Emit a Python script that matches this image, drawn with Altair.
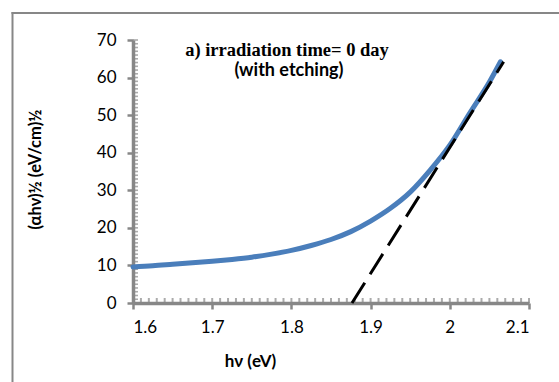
import altair as alt
import pandas as pd

# Measured curve (alpha h nu)^1/2 vs photon energy
hv = [1.600, 1.625, 1.650, 1.675, 1.700, 1.725, 1.750, 1.775, 1.800, 1.825,
      1.850, 1.875, 1.900, 1.925, 1.950, 1.975, 2.000, 2.025, 2.050, 2.064]
ahv = [9.6, 9.9, 10.3, 10.7, 11.1, 11.6, 12.2, 13.0, 14.0, 15.3,
       16.9, 19.0, 21.8, 25.2, 29.5, 35.3, 42.0, 50.5, 58.8, 64.2]

# Linear extrapolation (Tauc fit)
fit_x = [1.8765, 2.068]
fit_y = [0.0, 64.2]

x_ticks = [1.6, 1.7, 1.8, 1.9, 2.0, 2.1]
y_ticks = [0, 10, 20, 30, 40, 50, 60, 70]
x_minor = [round(1.6 + 0.01 * i, 2) for i in range(51)]
y_minor = list(range(0, 71))

title1 = "a) irradiation time= 0 day"
title2 = "(with etching)"
x_title = "hν (eV)"
y_title = "(αhν)½ (eV/cm)½"

GRAY = "#878787"
FONT = "Lato"

xs = alt.Scale(domain=[1.6, 2.1], nice=False, zero=False)
ys = alt.Scale(domain=[0, 70], nice=False)

curve_df = pd.DataFrame({"hv": hv, "y": ahv})
fit_df = pd.DataFrame({"hv": fit_x, "y": fit_y})

x_axis = alt.Axis(values=x_ticks, format=".2~f", title=x_title, grid=False,
                  domainColor=GRAY, domainWidth=3.5, tickColor=GRAY, tickWidth=2.5,
                  tickSize=6, labelPadding=18, labelBaseline="middle",
                  labelOverlap=False,
                  labelFont=FONT, labelFontSize=17, labelColor="black",
                  titleFont=FONT, titleFontSize=17, titleFontWeight="bold",
                  titleColor="black", titleX=117, titleY=58, titleBaseline="middle",
                  titleAnchor="middle", titleAlign="center")
y_axis = alt.Axis(values=y_ticks, title=y_title, grid=False,
                  domainColor=GRAY, domainWidth=3.5, tickColor=GRAY, tickWidth=2.5,
                  tickSize=6, labelPadding=11, labelBaseline="middle",
                  labelOverlap=False,
                  labelFont=FONT, labelFontSize=17, labelColor="black",
                  titleFont=FONT, titleFontSize=16.5, titleFontWeight="bold",
                  titleColor="black", titleX=-98, titleY=129, titleAngle=270,
                  titleBaseline="middle", titleAlign="center")

X = lambda f: alt.X(f, type="quantitative", scale=xs, axis=x_axis)
Y = lambda f: alt.Y(f, type="quantitative", scale=ys, axis=y_axis)

xm = alt.Chart(pd.DataFrame({"v": x_minor})).mark_tick(
    color=GRAY, thickness=2, size=5, orient="vertical"
).encode(x=X("v"), y=alt.value(260.5))

ym = alt.Chart(pd.DataFrame({"v": y_minor})).mark_tick(
    color=GRAY, thickness=1.6, size=5, orient="horizontal"
).encode(y=Y("v"), x=alt.value(2.5))

curve = alt.Chart(curve_df).mark_line(
    color="#4A7EBB", strokeWidth=5, interpolate="monotone", strokeCap="round"
).encode(x=X("hv"), y=Y("y"))

fit = alt.Chart(fit_df).mark_line(
    color="black", strokeWidth=3, strokeDash=[24, 10]
).encode(x=X("hv"), y=Y("y"))

t1 = alt.Chart(pd.DataFrame({"t": [title1]})).mark_text(
    font="Liberation Serif", fontSize=18.5, fontWeight="bold", align="center",
    baseline="alphabetic", color="black"
).encode(x=alt.value(154), y=alt.value(16), text="t:N")

t2 = alt.Chart(pd.DataFrame({"t": [title2]})).mark_text(
    font=FONT, fontSize=18, fontWeight="bold", align="center",
    baseline="alphabetic", color="black"
).encode(x=alt.value(156), y=alt.value(36), text="t:N")

frame_left = alt.Chart(pd.DataFrame({"a": [0]})).mark_rule(
    color=GRAY, strokeWidth=2
).encode(x=alt.value(-120.5), y=alt.value(-28), y2=alt.value(360))
frame_top = alt.Chart(pd.DataFrame({"a": [0]})).mark_rule(
    color=GRAY, strokeWidth=2
).encode(y=alt.value(-27), x=alt.value(-121.5), x2=alt.value(450))

chart = alt.layer(xm, ym, frame_left, frame_top, curve, fit, t1, t2).properties(
    width=396, height=263,
    autosize=alt.AutoSizeParams(type="none"),
    padding={"left": 133, "top": 40, "right": 30, "bottom": 79},
    background="white",
).configure_view(stroke=None)

chart.save("out.html", embed_options={"renderer": "svg", "actions": False})
